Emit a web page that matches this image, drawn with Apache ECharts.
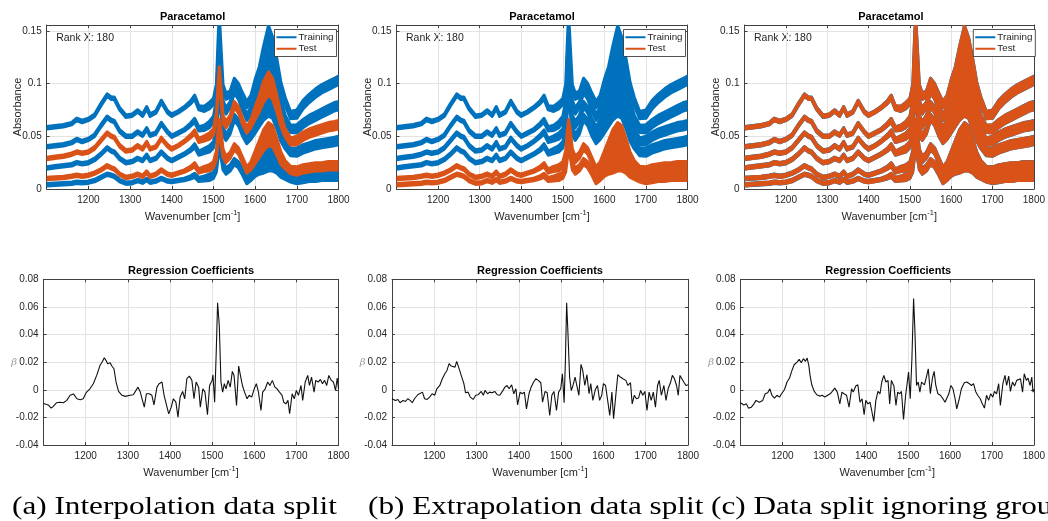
<!DOCTYPE html>
<html>
<head>
<meta charset="utf-8">
<script src="https://cdn.jsdelivr.net/npm/echarts@6/dist/echarts.min.js"></script>
<style>
  html, body { margin: 0; padding: 0; background: #fff; }
  #chart { width: 1048px; height: 521px; }
</style>
</head>
<body>
<div id="chart"></div>
<script>
// Wavenumber sampling grid (cm^-1) shared by the six spectral groups
const WAVE = [1100,1120,1140,1160,1172,1185,1200,1215,1230,1245,1255,1262,1275,1290,
  1305,1318,1330,1340,1348,1362,1375,1390,1400,1415,1430,1445,1455,1465,1478,1490,
  1500,1507,1511,1514,1518,1523,1530,1540,1550,1560,1570,1580,1590,1600,1610,1620,
  1632,1642,1652,1662,1672,1685,1700,1715,1730,1745,1760,1775,1790,1800];

// Absorbance of each concentration group (band centre), highest baseline first
const GROUP_1 = [0.058,0.059,0.060,0.062,0.066,0.064,0.066,0.070,0.080,0.089,0.086,0.086,0.076,0.069,
  0.070,0.074,0.070,0.077,0.070,0.073,0.083,0.073,0.070,0.073,0.077,0.082,0.087,0.077,0.076,0.079,
  0.083,0.095,0.135,0.160,0.130,0.095,0.088,0.090,0.102,0.097,0.088,0.080,0.085,0.098,0.108,0.125,
  0.144,0.134,0.116,0.095,0.083,0.070,0.071,0.080,0.086,0.091,0.095,0.098,0.101,0.103];
const GROUP_2 = [0.040,0.041,0.042,0.044,0.047,0.045,0.047,0.051,0.060,0.068,0.065,0.064,0.055,0.050,
  0.050,0.054,0.051,0.057,0.051,0.053,0.062,0.054,0.050,0.053,0.056,0.061,0.065,0.057,0.058,0.061,
  0.066,0.080,0.120,0.140,0.112,0.080,0.074,0.080,0.094,0.088,0.077,0.068,0.074,0.085,0.094,0.107,
  0.119,0.112,0.097,0.079,0.066,0.057,0.057,0.062,0.066,0.069,0.072,0.075,0.078,0.079];
const GROUP_3 = [0.029,0.030,0.031,0.033,0.035,0.034,0.035,0.039,0.046,0.053,0.050,0.049,0.041,0.036,
  0.037,0.041,0.038,0.044,0.038,0.040,0.048,0.041,0.038,0.041,0.045,0.050,0.054,0.046,0.048,0.050,
  0.054,0.068,0.095,0.110,0.092,0.066,0.061,0.067,0.080,0.075,0.064,0.056,0.062,0.072,0.081,0.092,
  0.100,0.095,0.081,0.065,0.053,0.045,0.046,0.050,0.053,0.055,0.057,0.059,0.060,0.061];
const GROUP_4 = [0.020,0.021,0.022,0.023,0.025,0.024,0.025,0.028,0.033,0.039,0.036,0.035,0.029,0.025,
  0.026,0.029,0.027,0.032,0.027,0.029,0.035,0.029,0.027,0.030,0.033,0.037,0.041,0.034,0.036,0.038,
  0.042,0.055,0.080,0.092,0.078,0.055,0.049,0.055,0.068,0.063,0.053,0.046,0.051,0.059,0.067,0.075,
  0.080,0.077,0.065,0.051,0.042,0.035,0.035,0.038,0.040,0.042,0.043,0.044,0.045,0.046];
const GROUP_5 = [0.010,0.0105,0.011,0.012,0.013,0.012,0.013,0.015,0.018,0.022,0.020,0.019,0.014,0.011,
  0.012,0.014,0.012,0.016,0.012,0.014,0.018,0.014,0.013,0.015,0.017,0.020,0.023,0.017,0.019,0.020,
  0.023,0.032,0.050,0.060,0.050,0.034,0.028,0.032,0.040,0.036,0.027,0.018,0.022,0.030,0.038,0.046,
  0.052,0.050,0.040,0.029,0.023,0.018,0.017,0.019,0.020,0.021,0.021,0.022,0.022,0.022];
const GROUP_6 = [0.004,0.0045,0.005,0.0055,0.0065,0.006,0.0065,0.008,0.011,0.014,0.013,0.012,0.008,0.0055,
  0.006,0.008,0.0065,0.009,0.0065,0.0075,0.010,0.0075,0.007,0.008,0.009,0.011,0.013,0.009,0.010,0.011,
  0.013,0.020,0.035,0.045,0.036,0.022,0.017,0.020,0.026,0.023,0.016,0.008,0.012,0.018,0.022,0.025,
  0.028,0.027,0.023,0.017,0.013,0.010,0.009,0.010,0.011,0.011,0.012,0.012,0.012,0.012];

// Half-width of the spread of the replicate spectra within a group
const SPREAD = [0.0012,0.0012,0.0012,0.0012,0.0012,0.0012,0.0012,0.0012,0.0012,0.0012,0.0012,0.0012,0.0012,0.0012,
  0.0012,0.0012,0.0012,0.0012,0.0012,0.0012,0.0012,0.0012,0.0012,0.0012,0.0012,0.0015,0.002,0.002,0.0025,0.003,
  0.003,0.004,0.006,0.006,0.006,0.004,0.003,0.003,0.003,0.003,0.003,0.003,0.004,0.006,0.008,0.010,
  0.011,0.010,0.008,0.006,0.004,0.0035,0.004,0.004,0.004,0.004,0.004,0.004,0.004,0.004];

const GROUPS = [GROUP_1, GROUP_2, GROUP_3, GROUP_4, GROUP_5, GROUP_6];

// PLS regression coefficients [wavenumber, beta] for each data split
const COEF_A = [[1100,-0.010],[1103,-0.0094],[1111,-0.011],[1118,-0.0133],[1123,-0.012],[1131,-0.0094],[1139,-0.009],
  [1147,-0.0094],[1155,-0.0077],[1163,-0.004],[1171,-0.003],[1179,-0.0065],[1187,-0.0073],[1194,-0.0065],[1202,-0.0017],
  [1210,0.0007],[1218,0.0044],[1226,0.0104],[1234,0.0177],[1240,0.0206],[1244,0.0232],[1248,0.0213],[1252,0.0189],
  [1258,0.0196],[1262,0.0172],[1267,0.0152],[1272,0.0056],[1278,-0.0012],[1286,-0.004],[1294,-0.0048],[1305,-0.004],
  [1313,-0.0036],[1324,0.0019],[1329,-0.0012],[1333,-0.0005],[1339,-0.0126],[1344,-0.0029],[1351,-0.0029],[1357,-0.004],
  [1362,-0.011],[1369,0.0019],[1374,0.0044],[1381,0.0056],[1386,-0.004],[1390,-0.0029],[1397,-0.0174],[1403,-0.0126],
  [1408,-0.0065],[1414,-0.009],[1419,-0.0198],[1424,-0.0053],[1430,-0.0012],[1435,-0.0065],[1440,0.008],[1446,0.0099],
  [1452,0.0068],[1457,-0.0065],[1462,0.0056],[1468,0.0019],[1472,-0.0126],[1478,0.0007],[1483,-0.0017],[1489,-0.0181],
  [1494,0.0031],[1500,0.0068],[1502,0.0109],[1506,-0.009],[1510,0.0297],[1513,0.063],[1517,0.0467],[1521,0.0056],
  [1525,-0.0017],[1529,0.0044],[1533,0.0007],[1538,0.0068],[1543,0.0019],[1548,0.0133],[1552,0.0104],[1558,-0.0114],
  [1563,0.0172],[1568,0.0092],[1572,0.0031],[1577,-0.0017],[1583,-0.0065],[1588,-0.004],[1594,-0.0053],[1600,0.0007],
  [1605,0.0044],[1610,-0.0017],[1616,-0.015],[1620,-0.0017],[1626,0.0007],[1632,0.0056],[1637,0.0031],[1643,0.0068],
  [1649,0.0019],[1654,0.0007],[1660,-0.0017],[1666,-0.004],[1670,-0.009],[1675,-0.0102],[1680,-0.0077],[1684,-0.0174],
  [1690,-0.0029],[1695,-0.0065],[1700,-0.0005],[1705,-0.004],[1711,0.0031],[1715,-0.0077],[1721,0.0056],[1727,0.0104],
  [1731,0.0031],[1736,0.0092],[1742,-0.0017],[1746,0.0068],[1752,0.0056],[1757,0.0075],[1762,0.0044],[1767,0.0068],
  [1772,0.0031],[1777,0.0104],[1783,0.0068],[1788,0.0056],[1793,-0.0005],[1797,0.0085],[1800,0.0007]];

const COEF_B = [[1100,-0.0065],[1102,-0.0065],[1108,-0.0077],[1114,-0.007],[1119,-0.0094],[1126,-0.0077],[1132,-0.0085],
  [1137,-0.0065],[1143,-0.0077],[1148,-0.0094],[1153,-0.0065],[1161,-0.0036],[1172,-0.0017],[1177,-0.0065],[1183,-0.007],
  [1189,-0.0053],[1195,-0.0029],[1201,-0.004],[1206,0.0007],[1213,0.0031],[1219,0.008],[1225,0.0116],[1230,0.014],
  [1235,0.0189],[1240,0.0172],[1244,0.0177],[1249,0.0164],[1253,0.0206],[1257,0.022],[1260,0.014],[1265,0.0092],
  [1270,0.0044],[1274,-0.0022],[1280,-0.0017],[1285,-0.0053],[1292,-0.007],[1298,-0.004],[1304,-0.0036],[1311,-0.0012],
  [1316,-0.004],[1320,-0.0005],[1326,-0.0029],[1331,-0.0017],[1337,-0.0022],[1343,-0.0012],[1349,-0.0036],[1355,-0.004],
  [1361,-0.0012],[1367,0.0019],[1372,0.0031],[1377,0.0007],[1383,0.0036],[1388,-0.0029],[1393,0.0007],[1397,-0.011],
  [1403,-0.0017],[1408,-0.0029],[1413,-0.0017],[1418,-0.0138],[1424,-0.0029],[1429,0.0019],[1434,0.0051],[1440,0.008],
  [1446,0.0068],[1452,0.0051],[1456,-0.009],[1462,-0.0012],[1467,-0.0022],[1473,-0.0186],[1478,-0.004],[1483,-0.0012],
  [1489,-0.015],[1494,-0.0017],[1499,0.0007],[1503,0.0116],[1507,-0.0094],[1510,0.020],[1513,0.063],[1516,0.0418],
  [1520,0.0092],[1524,-0.0005],[1528,0.0031],[1533,0.0092],[1537,0.0031],[1542,-0.004],[1547,0.0184],[1551,0.014],
  [1556,0.0031],[1561,0.0109],[1566,-0.0029],[1570,0.0044],[1575,-0.0077],[1581,0.0002],[1586,0.0031],[1591,-0.0077],
  [1596,-0.004],[1600,0.0044],[1605,0.0031],[1610,-0.0077],[1615,-0.0186],[1620,-0.0017],[1624,-0.021],[1630,-0.0017],
  [1634,0.0109],[1640,0.0092],[1646,0.008],[1653,0.0068],[1658,0.0031],[1664,0.0051],[1668,-0.0102],[1673,-0.004],
  [1678,-0.0065],[1683,-0.006],[1688,-0.0005],[1693,-0.004],[1698,-0.0012],[1703,-0.015],[1708,-0.0017],[1713,-0.0077],
  [1718,-0.0017],[1723,-0.0126],[1728,0.0031],[1732,0.0068],[1737,-0.004],[1743,0.0031],[1748,-0.0077],[1753,0.0007],
  [1759,0.0056],[1763,0.0104],[1768,0.008],[1773,0.0031],[1777,-0.004],[1781,0.0104],[1785,0.0099],[1790,0.0056],
  [1795,0.0031],[1800,0.0036]];

const COEF_C = [[1100,-0.0094],[1102,-0.0094],[1108,-0.011],[1114,-0.0102],[1119,-0.0133],[1126,-0.0126],[1132,-0.0102],
  [1137,-0.0077],[1145,-0.009],[1153,-0.0077],[1159,-0.0029],[1165,-0.0022],[1170,0.0007],[1175,-0.004],[1181,-0.006],
  [1187,-0.004],[1193,-0.0053],[1198,-0.0029],[1205,0.0002],[1211,0.0056],[1217,0.0085],[1222,0.0133],[1228,0.0181],
  [1235,0.020],[1240,0.022],[1245,0.0196],[1250,0.0225],[1255,0.0206],[1259,0.023],[1263,0.0177],[1266,0.0104],
  [1270,0.0036],[1276,-0.0012],[1282,-0.0036],[1289,-0.0046],[1295,-0.004],[1301,-0.0053],[1308,-0.004],[1314,-0.0029],
  [1319,-0.0012],[1325,0.0012],[1331,-0.0017],[1337,-0.0102],[1342,-0.0017],[1347,-0.0029],[1353,-0.004],[1359,-0.0126],
  [1365,0.0007],[1369,-0.0017],[1375,0.0027],[1380,0.0036],[1385,-0.009],[1390,-0.0065],[1395,-0.0181],[1399,-0.0077],
  [1404,-0.0102],[1409,-0.009],[1413,-0.015],[1418,-0.023],[1423,-0.0077],[1428,-0.0012],[1433,-0.0029],[1437,0.0056],
  [1442,0.0104],[1447,0.0056],[1452,0.0068],[1456,-0.0102],[1460,0.0068],[1466,0.0027],[1471,-0.0114],[1475,-0.0017],
  [1480,-0.0029],[1484,-0.0012],[1489,-0.0215],[1494,-0.004],[1497,0.0031],[1501,0.0128],[1505,-0.0065],[1509,0.0225],
  [1513,0.066],[1516,0.0443],[1520,0.0031],[1524,0.0056],[1528,-0.0017],[1532,0.0056],[1535,0.0068],[1539,0.0036],
  [1544,0.0099],[1548,0.0152],[1553,-0.0029],[1558,0.0085],[1562,0.0133],[1566,0.0031],[1571,-0.0029],[1577,-0.004],
  [1582,-0.006],[1588,-0.009],[1592,-0.0077],[1597,-0.0029],[1602,0.0031],[1607,0.0007],[1612,-0.0065],[1616,-0.0138],
  [1622,-0.0065],[1627,0.0007],[1634,0.0051],[1640,0.0056],[1646,0.0044],[1651,0.0031],[1656,0.0044],[1661,-0.0012],
  [1666,-0.004],[1672,-0.0065],[1677,-0.0102],[1682,-0.0133],[1687,-0.004],[1692,-0.0077],[1697,-0.0029],[1702,-0.0053],
  [1706,-0.0012],[1711,-0.0029],[1716,0.0044],[1720,-0.0114],[1726,0.0044],[1731,0.0104],[1735,0.0031],[1740,0.0099],
  [1744,-0.0012],[1749,0.0056],[1754,0.0027],[1759,0.0068],[1763,0.0056],[1768,0.008],[1773,-0.0017],[1777,0.0116],
  [1782,0.0068],[1786,0.0085],[1791,0.0031],[1795,0.0092],[1798,-0.0017],[1800,0.0005]];

// Which groups are used for training and for testing in each split (indices into GROUPS)
const SPLIT_TRAIN = [[0, 1, 3, 5], [0, 1, 2, 3], [0, 1, 2, 3, 4, 5]];
const SPLIT_TEST  = [[2, 4], [4, 5], [0, 1, 2, 3, 4, 5]];
const COEFS = [COEF_A, COEF_B, COEF_C];
const CAPTIONS = ['(a) Interpolation data split', '(b) Extrapolation data split', '(c) Data split ignoring grouping'];
const RANK_TEXT = 'Rank X: 180';

// ---------- styling / layout ----------
const BLUE = '#0072BD';
const ORANGE = '#D95319';
const AXIS = '#404040';
const TXT = '#262626';
const GRIDC = '#e3e3e3';
const FONT = '"Liberation Sans", Arial, Helvetica, sans-serif';

const TOP_GRIDS = [
  { left: 46.7, width: 291.8 }, { left: 396.5, width: 291 }, { left: 744.5, width: 292.8 }
];
const BOT_GRIDS = [
  { left: 43.6, width: 294.9 }, { left: 392, width: 296 }, { left: 740.5, width: 295.5 }
];
const TOP_Y = 25, TOP_H = 164;
const BOT_Y = 279.3, BOT_H = 165.7;
const CAPTION_X = [12, 368, 711];

const chart = echarts.init(document.getElementById('chart'), null, { renderer: 'canvas' });

const grids = [], xAxes = [], yAxes = [], series = [], titles = [], legends = [], graphics = [];

const xName = {
  name: 'Wavenumber [cm{sup|-1}]',
  nameLocation: 'middle',
  nameGap: 20,
  nameMoveOverlap: false,
  nameTextStyle: {
    fontFamily: FONT, fontSize: 11, color: TXT,
    rich: { sup: { fontFamily: FONT, fontSize: 7.5, color: TXT, padding: [0, 0, 7, 0] } }
  }
};

function plainNumber(v) { return String(v); }

function addPanel(box, top, height, ycfg, yname) {
  const gi = grids.length;
  grids.push({ left: box.left, top: top, width: box.width, height: height, containLabel: false });
  const common = { gridIndex: gi, type: 'value', min: 1100, max: 1800, interval: 100 };
  xAxes.push(Object.assign({}, common, xName, {
    position: 'bottom',
    axisLine: { show: true, onZero: false, lineStyle: { color: AXIS, width: 1 } },
    axisTick: { show: true, inside: true, length: 3, lineStyle: { color: AXIS } },
    axisLabel: { show: true, margin: 6, fontFamily: FONT, fontSize: 10, color: TXT, showMinLabel: false, formatter: plainNumber },
    splitLine: { show: true, lineStyle: { color: GRIDC, width: 1 } }
  }));
  xAxes.push(Object.assign({}, common, {
    position: 'top',
    axisLine: { show: true, onZero: false, lineStyle: { color: AXIS, width: 1 } },
    axisTick: { show: true, inside: true, length: 3, lineStyle: { color: AXIS } },
    axisLabel: { show: false }, splitLine: { show: false }
  }));
  const ycommon = { gridIndex: gi, type: 'value', min: ycfg.min, max: ycfg.max, interval: ycfg.interval };
  yAxes.push(Object.assign({}, ycommon, yname, {
    position: 'left',
    nameMoveOverlap: false,
    axisLine: { show: true, onZero: false, lineStyle: { color: AXIS, width: 1 } },
    axisTick: { show: true, inside: true, length: 3, lineStyle: { color: AXIS } },
    axisLabel: { show: true, margin: 5, fontFamily: FONT, fontSize: 10, color: TXT, showMaxLabel: ycfg.showMax },
    splitLine: { show: true, lineStyle: { color: GRIDC, width: 1 } }
  }));
  yAxes.push(Object.assign({}, ycommon, {
    position: 'right',
    axisLine: { show: true, onZero: false, lineStyle: { color: AXIS, width: 1 } },
    axisTick: { show: true, inside: true, length: 3, lineStyle: { color: AXIS } },
    axisLabel: { show: false }, splitLine: { show: false }
  }));
  return gi;
}

// Draws one group of replicate spectra as a filled band between centre - spread and centre + spread
function bandSeries(name, gi, values, color, strokeWidth) {
  return {
    type: 'custom',
    name: name,
    xAxisIndex: gi * 2,
    yAxisIndex: gi * 2,
    silent: true,
    animation: false,
    itemStyle: { color: color },
    data: [[WAVE[0], values[0]]],
    renderItem: function (params, api) {
      const upper = [], lower = [];
      for (let i = 0; i < WAVE.length; i++) {
        upper.push(api.coord([WAVE[i], values[i] + SPREAD[i]]));
        lower.push(api.coord([WAVE[i], values[i] - SPREAD[i]]));
      }
      const pts = upper.concat(lower.reverse());
      const cs = params.coordSys;
      return {
        type: 'group',
        clipPath: { type: 'rect', shape: { x: cs.x, y: cs.y, width: cs.width, height: cs.height } },
        children: [{
          type: 'polygon',
          shape: { points: pts },
          style: { fill: color, stroke: color, lineWidth: strokeWidth, lineJoin: 'round' }
        }]
      };
    }
  };
}

for (let p = 0; p < 3; p++) {
  // --- spectra panel ---
  const box = TOP_GRIDS[p];
  const gi = addPanel(box, TOP_Y, TOP_H, { min: 0, max: 0.1555, interval: 0.05, showMax: false }, {
    name: 'Absorbance', nameLocation: 'middle', nameGap: 23, nameRotate: 90,
    nameTextStyle: { fontFamily: FONT, fontSize: 11, color: TXT }
  });
  SPLIT_TRAIN[p].forEach(function (g) {
    series.push(bandSeries('Training', gi, GROUPS[g], BLUE, 3));
  });
  SPLIT_TEST[p].forEach(function (g) {
    series.push(bandSeries('Test', gi, GROUPS[g], ORANGE, p === 2 ? 2.7 : 3));
  });
  titles.push({
    text: 'Paracetamol', left: box.left + box.width / 2, top: 11, textAlign: 'center', padding: 0,
    textStyle: { fontFamily: FONT, fontSize: 11, fontWeight: 'bold', color: '#000' }
  });
  legends.push({
    data: ['Training', 'Test'],
    orient: 'vertical',
    left: box.left + box.width - 64, top: 29.5,
    padding: [2, 3, 2, 2],
    itemGap: 0,
    itemWidth: 20, itemHeight: 2,
    icon: 'rect',
    selectedMode: false,
    backgroundColor: '#fff',
    borderColor: '#262626', borderWidth: 0.8,
    textStyle: { fontFamily: FONT, fontSize: 9.8, color: TXT, lineHeight: 11.5, padding: [0, 0, 0, -3] }
  });
  graphics.push({
    type: 'text', x: box.left + 9.5, y: 38, silent: true,
    style: { text: RANK_TEXT, fontFamily: FONT, fontSize: 10.5, fill: TXT, verticalAlign: 'middle' }
  });

  // --- regression coefficient panel ---
  const bbox = BOT_GRIDS[p];
  const bi = addPanel(bbox, BOT_Y, BOT_H, { min: -0.04, max: 0.08, interval: 0.02, showMax: true }, {
    name: 'β', nameLocation: 'middle', nameGap: 26.5, nameRotate: 0,
    nameTextStyle: { fontFamily: '"DejaVu Serif", "Liberation Serif", serif', fontStyle: 'italic', fontSize: 10, color: '#9a9a9a' }
  });
  series.push({
    type: 'line', name: 'Regression Coefficients', xAxisIndex: bi * 2, yAxisIndex: bi * 2,
    data: COEFS[p], showSymbol: false, silent: true, animation: false,
    lineStyle: { color: '#111', width: 1.1 }
  });
  titles.push({
    text: 'Regression Coefficients', left: bbox.left + bbox.width / 2, top: 265, textAlign: 'center', padding: 0,
    textStyle: { fontFamily: FONT, fontSize: 11, fontWeight: 'bold', color: '#000' }
  });

  // --- sub-figure caption ---
  graphics.push({
    type: 'text', x: CAPTION_X[p], y: 507, scaleX: 1.2, silent: true,
    style: { text: CAPTIONS[p], fontFamily: '"Liberation Serif", "Times New Roman", serif', fontSize: 26, fill: '#000', verticalAlign: 'middle' }
  });
}

chart.setOption({
  backgroundColor: '#fff',
  animation: false,
  title: titles,
  legend: legends,
  grid: grids,
  xAxis: xAxes,
  yAxis: yAxes,
  series: series,
  graphic: graphics
});
</script>
</body>
</html>
